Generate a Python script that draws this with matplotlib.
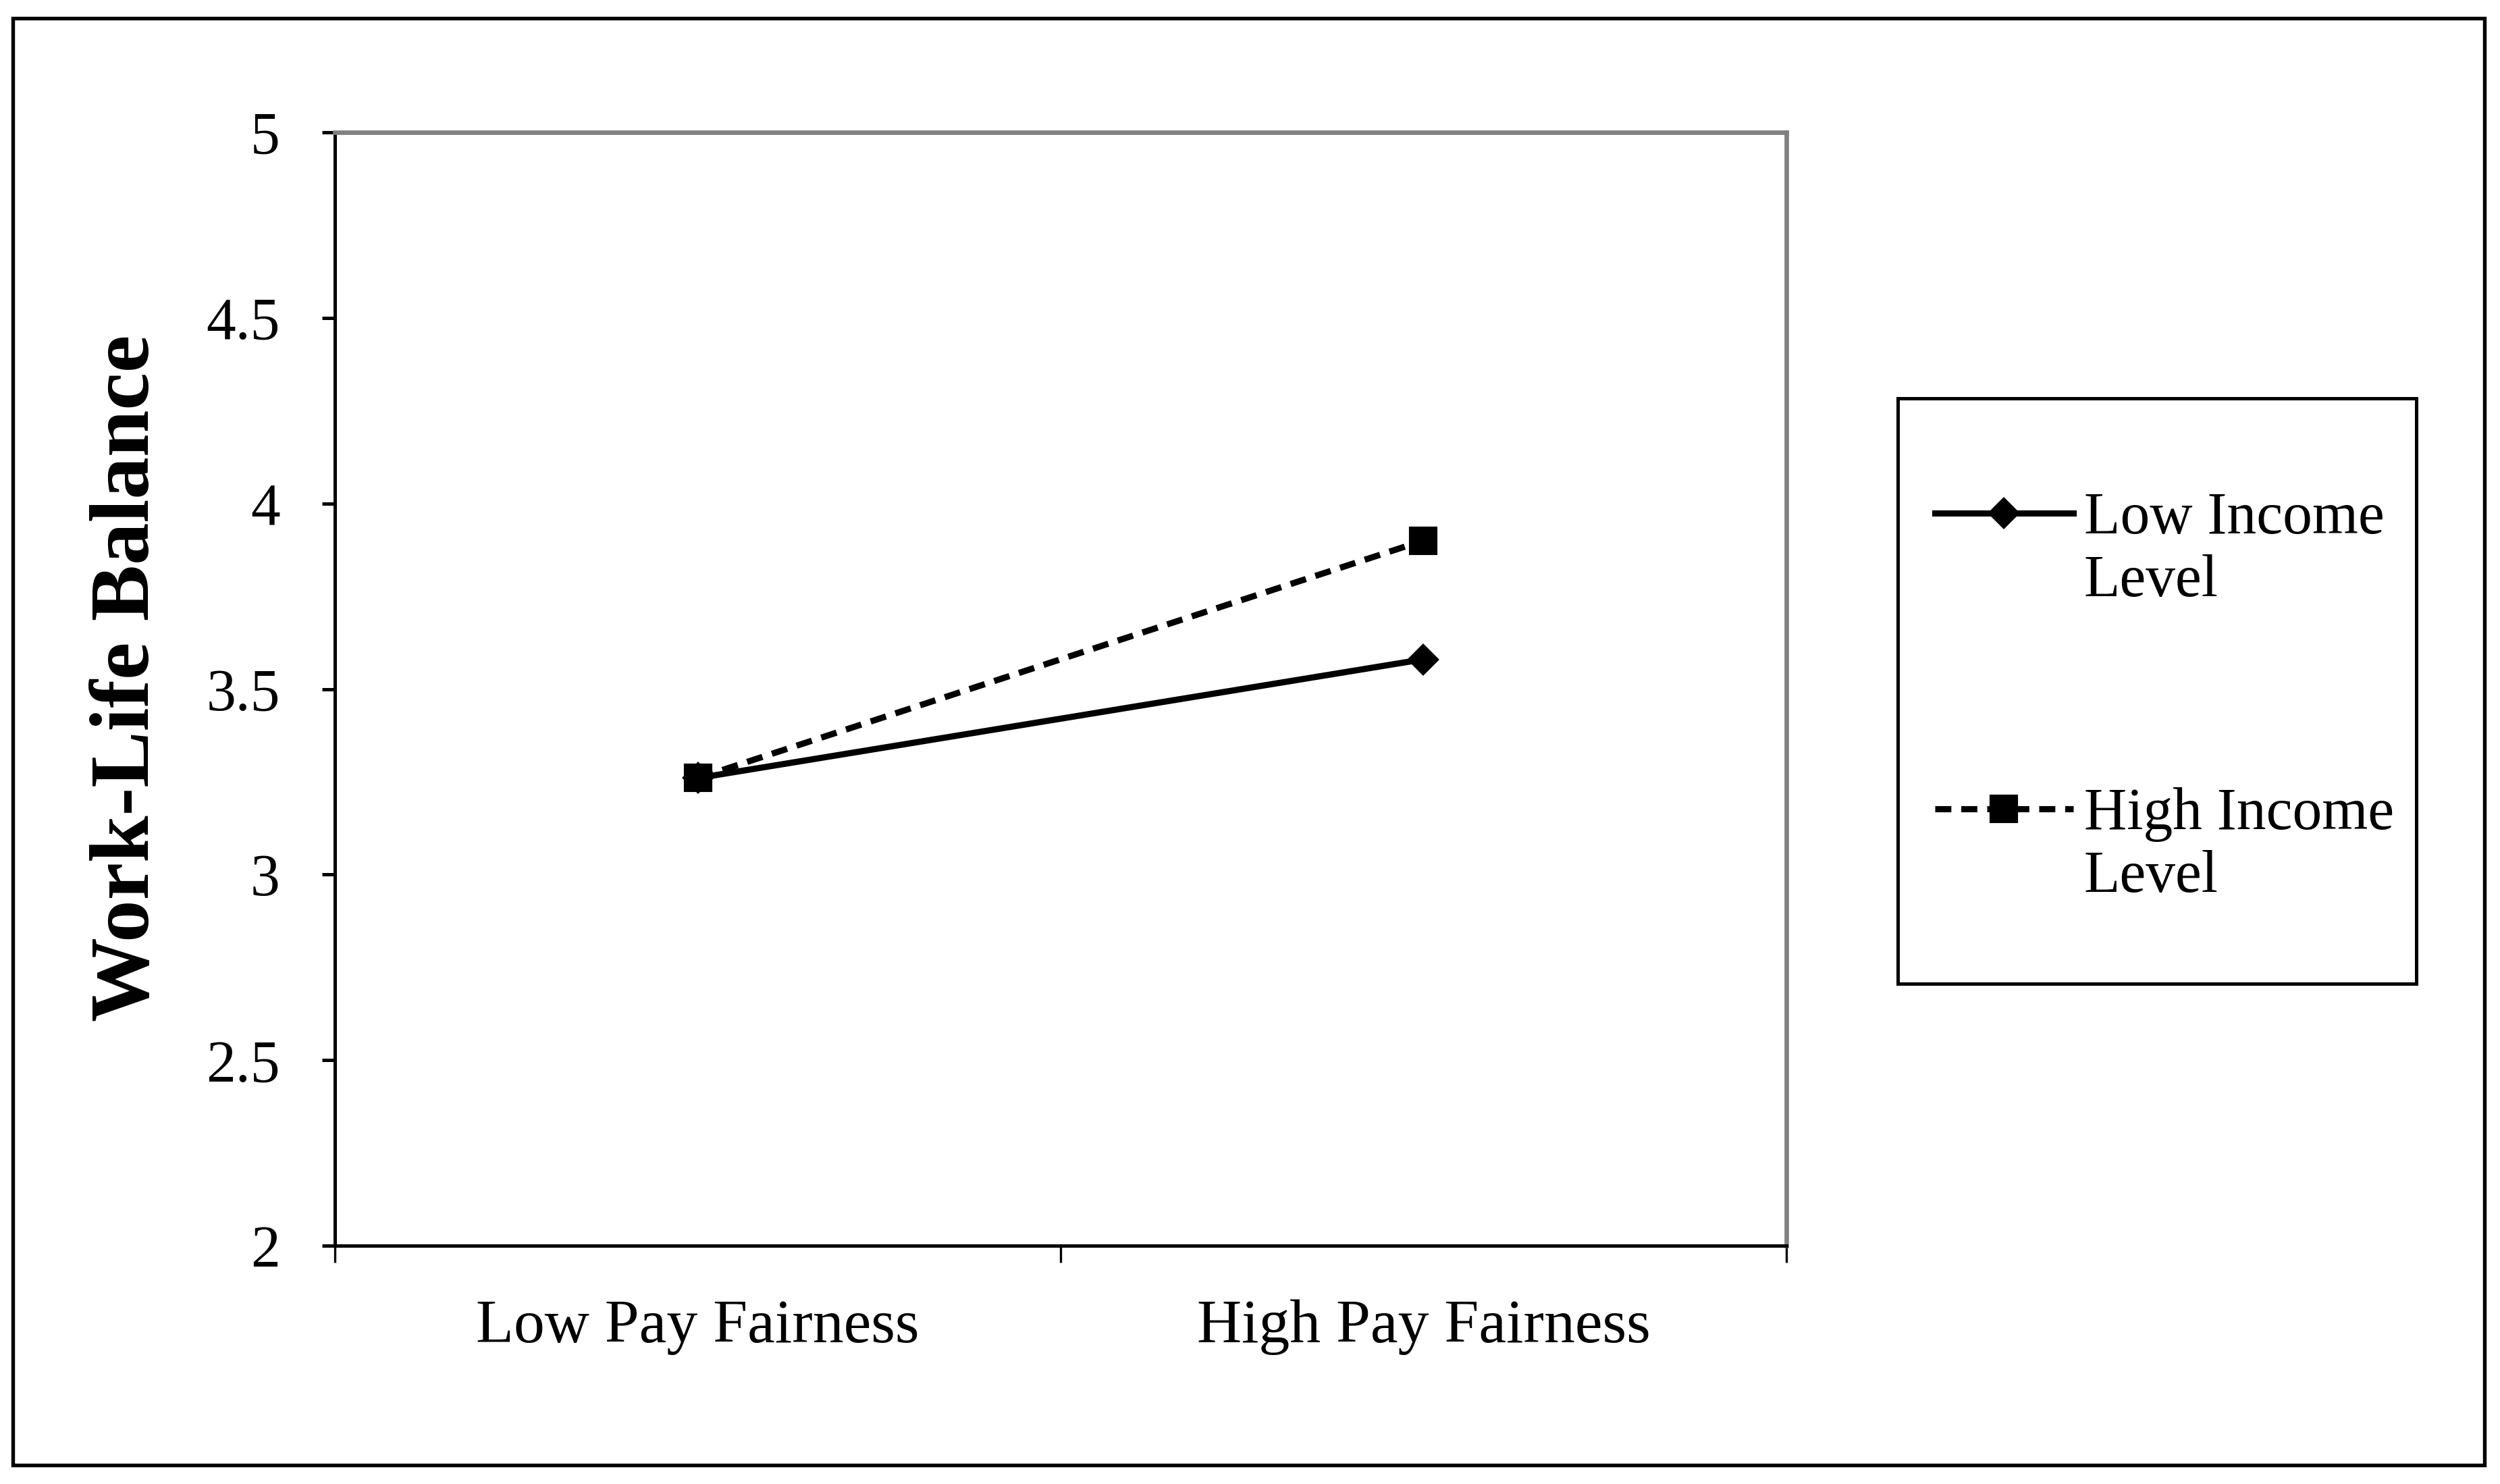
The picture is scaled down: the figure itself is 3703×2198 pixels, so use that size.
import matplotlib
matplotlib.use("Agg")
import matplotlib.pyplot as plt
from matplotlib.lines import Line2D
from matplotlib.patches import Rectangle

plt.rcParams['font.family'] = ['Liberation Serif', 'DejaVu Serif']

# data
categories = ['Low Pay Fairness', 'High Pay Fairness']
low_income = [3.26, 3.58]
high_income = [3.26, 3.90]
series_labels = ['Low Income\nLevel', 'High Income\nLevel']
y_ticks = [2, 2.5, 3, 3.5, 4, 4.5, 5]
y_tick_labels = ['2', '2.5', '3', '3.5', '4', '4.5', '5']

W, H = 3704, 2198
fig = plt.figure(figsize=(W / 300, H / 300), dpi=300)
ax = fig.add_axes([496 / W, 1 - 1845 / H, (2646 - 496) / W, (1845 - 196) / H])

x = [i + 0.5 for i in range(len(categories))]
low_style = dict(color='black', lw=2.2, ls='-', marker='D', ms=7)
high_style = dict(color='black', lw=2.2, ls=(0, (2.6, 1.6)), marker='s', ms=9)
ax.plot(x, low_income, **low_style)
ax.plot(x, high_income, **high_style)

ax.set_xlim(0, len(categories))
ax.set_ylim(2, 5)
ax.set_yticks(y_ticks)
ax.set_yticklabels(y_tick_labels)
ax.set_xticks(range(len(categories) + 1))
ax.set_xticklabels([])
ax.set_xticks(x, minor=True)
ax.set_xticklabels(categories, minor=True)
ax.tick_params(axis='x', which='major', direction='out', length=6, width=0.8)
ax.tick_params(axis='x', which='minor', length=0, pad=19, labelsize=22)
ax.tick_params(axis='y', direction='out', length=4.5, width=1.2, pad=15, labelsize=21)

for side in ['top', 'right']:
    ax.spines[side].set_color('#808080')
    ax.spines[side].set_linewidth(1.6)
for side in ['left', 'bottom']:
    ax.spines[side].set_color('black')
    ax.spines[side].set_linewidth(1.2)

ax.set_ylabel('Work-Life Balance', fontsize=30, fontweight='bold')
ax.yaxis.set_label_coords(-0.116, 0.51)

# legend box drawn by hand so the handle sits on the first text line
fig.patches.append(Rectangle((2811 / W, 1 - 1457 / H), (3579 - 2811) / W, (1457 - 590) / H,
                             transform=fig.transFigure, fill=False, ec='black', lw=1.2))
leg_y = [760, 1198]
for style, label, yy in zip([low_style, high_style], series_labels, leg_y):
    yf = 1 - yy / H
    fig.lines.append(Line2D([2866 / W, 3071 / W], [yf, yf], transform=fig.transFigure,
                            color='black', lw=2.2, ls=style['ls']))
    fig.lines.append(Line2D([2968 / W], [yf], transform=fig.transFigure, color='black',
                            marker=style['marker'], ms=style['ms']))
    fig.text(3087 / W, 1 - (yy + 123) / H, label, fontsize=21, va='baseline', ha='left',
             linespacing=1.2)

# outer chart border
fig.patches.append(Rectangle((19 / W, 1 - 2170 / H), (3680 - 19) / W, (2170 - 27) / H,
                             transform=fig.transFigure, fill=False, ec='black', lw=1.3))

fig.savefig('out.png', dpi=300)
